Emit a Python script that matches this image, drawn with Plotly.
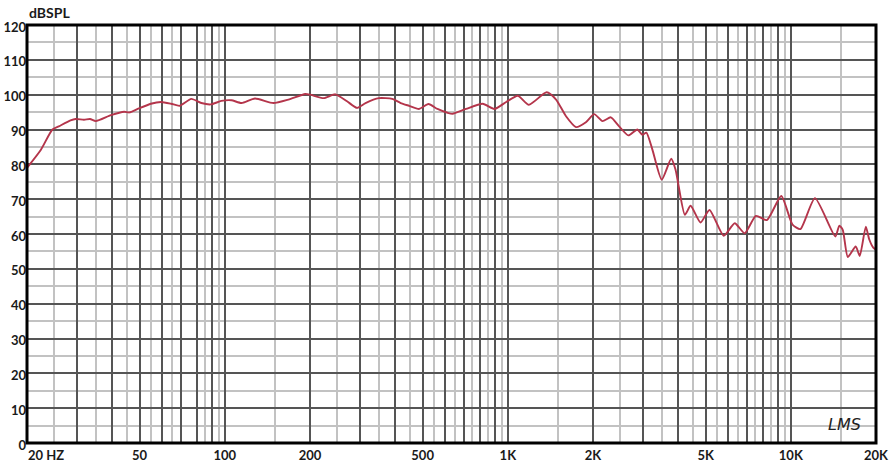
import math
import plotly.graph_objects as go

# ---- data ----
freq_hz = [20, 22.4, 24.6, 25.9, 28.5, 29.7, 31.8, 33.4, 35.0, 39.6, 44.1, 46.0, 49.2,
           54.8, 59.5, 64.6, 69.2, 76.1, 82.6, 89.2, 97.2, 105.5, 114.6, 127.8, 148.4,
           167.8, 192.3, 200.4, 223.4, 245.9, 270.3, 293.3, 314.2, 350.3, 390.5, 418.2,
           447.7, 485.8, 524.2, 564.2, 612.3, 637.9, 711.6, 815.2, 897.0, 987, 1085,
           1187, 1372, 1481, 1606, 1741, 1888, 2020, 2160, 2312, 2474, 2667, 2869, 2988,
           3087, 3241, 3498, 3780, 3917, 4224, 4424, 4797, 5161, 5794, 6337, 6871, 7528,
           8232, 9252, 10140, 10810, 12170, 14360, 14840, 15260, 15900, 16950, 17520,
           18410, 18920, 19560, 20000]
spl_db = [79.0, 84.2, 90.0, 90.9, 92.6, 93.0, 92.8, 93.0, 92.4, 94.1, 95.1, 94.9, 95.9,
          97.4, 97.9, 97.4, 96.8, 98.8, 97.6, 97.2, 98.2, 98.4, 97.6, 98.9, 97.6,
          98.6, 100.2, 100.0, 99.0, 100.1, 98.1, 96.2, 97.6, 99.0, 98.8, 97.6,
          96.8, 95.9, 97.3, 95.9, 94.8, 94.5, 95.9, 97.4, 95.9, 97.9, 99.7,
          97.1, 100.7, 98.6, 93.8, 90.7, 92.1, 94.4, 92.4, 93.5, 90.9, 88.3, 90.0, 88.5,
          89.1, 84.3, 75.6, 81.6, 78.4, 65.5, 68.1, 63.3, 66.9, 59.5, 63.1, 60.2, 65.2,
          64.0, 70.9, 62.7, 61.4, 70.3, 59.3, 62.4, 61.2, 53.4, 56.4, 53.7,
          62.1, 58.5, 56.1, 55.5]

# ---- axis ticks / grid ----
x_major = [20, 30, 40, 50, 60, 70, 80, 90, 100, 200, 300, 400, 500, 600, 700, 800, 900,
           1000, 2000, 3000, 4000, 5000, 6000, 7000, 8000, 9000, 10000, 20000]
x_minor = [25, 35, 45, 55, 65, 85, 95, 150, 250, 350, 450, 550, 650, 750, 850, 950,
           1500, 2500, 3500, 4500, 5500, 6500, 7500, 8500, 9500, 15000]
x_labels = {50: "50", 100: "100", 200: "200", 500: "500", 1000: "1K", 2000: "2K",
            5000: "5K", 10000: "10K", 20000: "20K"}
first_x_label = "20 HZ"
y_major = list(range(0, 121, 10))
y_minor = list(range(5, 120, 10))
y_title = "dBSPL"
signature = "LMS"

LABEL_FONT = dict(family="Lato", size=13, color="#1a1a1a", weight="bold")

fig = go.Figure()
fig.add_trace(go.Scatter(
    x=freq_hz, y=spl_db, mode="lines",
    line=dict(color="#b4354b", width=1.9, shape="spline", smoothing=0.6),
    hoverinfo="skip", showlegend=False))

fig.update_layout(
    width=891, height=464,
    margin=dict(l=27, r=15, t=25, b=21, autoexpand=False),
    paper_bgcolor="white", plot_bgcolor="white",
    showlegend=False,
    xaxis=dict(
        type="log", range=[math.log10(20), math.log10(20000)],
        tickmode="array", tickvals=x_major,
        ticktext=[x_labels.get(v, "") for v in x_major],
        showgrid=True, gridcolor="#555555", gridwidth=1.5,
        zeroline=False, showline=False, ticks="", automargin=False,
        tickfont=LABEL_FONT, ticklabelstandoff=3,
        minor=dict(tickmode="array", tickvals=x_minor, showgrid=True,
                   gridcolor="#c2c2c2", gridwidth=1.5, ticks=""),
        fixedrange=True,
    ),
    yaxis=dict(
        range=[0, 120], tickmode="array", tickvals=y_major,
        ticktext=[str(v) for v in y_major],
        showgrid=True, gridcolor="#555555", gridwidth=1.5,
        zeroline=False, showline=False, ticks="", automargin=False,
        tickfont=LABEL_FONT, ticklabelshift=2,
        minor=dict(tickmode="array", tickvals=y_minor, showgrid=True,
                   gridcolor="#c2c2c2", gridwidth=1.5, ticks=""),
        fixedrange=True,
    ),
    shapes=[dict(type="rect", xref="paper", yref="paper", x0=0, x1=1, y0=0, y1=1,
                 line=dict(color="black", width=3), layer="above")],
    annotations=[
        dict(text=y_title, xref="paper", yref="paper", x=0, y=1, xanchor="left",
             yanchor="bottom", yshift=2, showarrow=False,
             font=dict(family="Lato", size=14, color="#1a1a1a", weight="bold")),
        dict(text=first_x_label, xref="paper", yref="paper", x=0, y=0, xanchor="left",
             yanchor="top", yshift=-3, borderpad=0, showarrow=False, font=LABEL_FONT),
        dict(text=signature, xref="paper", yref="paper", x=0.963, y=0.045,
             xanchor="center", yanchor="middle", showarrow=False,
             font=dict(family="DejaVu Sans", size=16, color="#222222", style="italic")),
    ],
)

fig.write_html("out.html", config={"displayModeBar": False},
               post_script="document.body.style.margin='0';")
